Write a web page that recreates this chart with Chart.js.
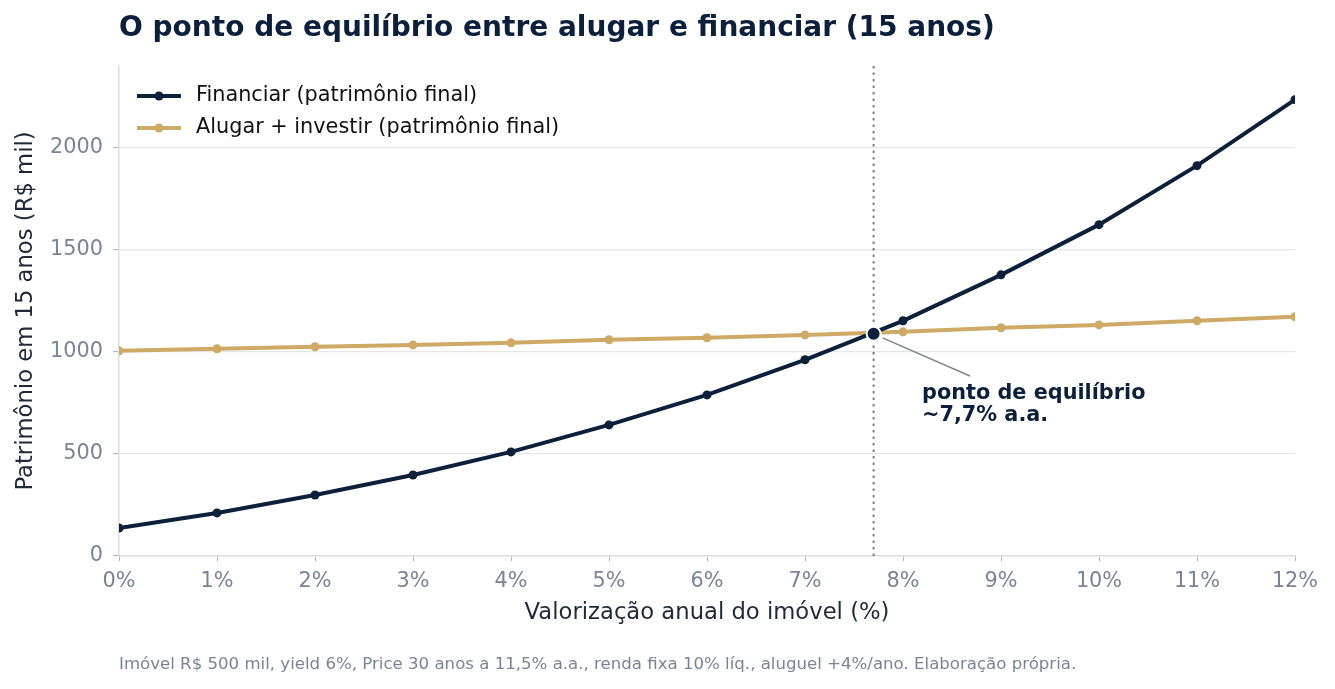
<!DOCTYPE html>
<html>
<head>
<meta charset="utf-8">
<script src="https://cdn.jsdelivr.net/npm/chart.js@4.4.1/dist/chart.umd.min.js"></script>
<style>
html,body{margin:0;padding:0;background:#fff;}
#wrap{width:1335px;height:689px;position:relative;}
</style>
</head>
<body>
<div id="wrap"><canvas id="c" width="1335" height="689"></canvas></div>
<script>
// ---- data ----
const valorizacao = [0,1,2,3,4,5,6,7,8,9,10,11,12];
const financiar = [137,211,299,397,510,642,789,961,1152,1377,1623,1912,2235];
const alugarInvestir = [1005,1015,1025,1034,1044,1059,1069,1083,1098,1118,1132,1152,1172];
const equilibrio = [{x:7.7, y:1088}];
const yTicks = [0,500,1000,1500,2000];
const labels = {
  title: 'O ponto de equilíbrio entre alugar e financiar (15 anos)',
  s1: 'Financiar (patrimônio final)',
  s2: 'Alugar + investir (patrimônio final)',
  xTitle: 'Valorização anual do imóvel (%)',
  yTitle: 'Patrimônio em 15 anos (R$ mil)',
  ann1: 'ponto de equilíbrio',
  ann2: '~7,7% a.a.',
  footer: 'Imóvel R$ 500 mil, yield 6%, Price 30 anos a 11,5% a.a., renda fixa 10% líq., aluguel +4%/ano. Elaboração própria.'
};

const NAVY = '#0c1f3b';
const GOLD = '#cfa966';
const GRAY = '#7b8494';
const FONT = "'DejaVu Sans', sans-serif";

const toXY = (arr) => arr.map((v,i)=>({x:valorizacao[i], y:v}));

const PAD = {left:8, right:40, top:66, bottom:58};
const CHART_LEFT = 119, CHART_BOTTOM = 556;

const extras = {
  id:'extras',
  beforeDatasetsDraw(chart){
    const {ctx, chartArea, scales:{x}} = chart;
    const px = x.getPixelForValue(equilibrio[0].x);
    ctx.save();
    ctx.strokeStyle = '#7d7f86';
    ctx.lineWidth = 2;
    ctx.setLineDash([2.5,4]);
    ctx.beginPath();
    ctx.moveTo(px, chartArea.top);
    ctx.lineTo(px, chartArea.bottom);
    ctx.stroke();
    ctx.restore();
  },
  afterDraw(chart){
    const {ctx, chartArea, scales:{x,y}} = chart;
    ctx.save();
    ctx.textBaseline = 'middle';
    ctx.textAlign = 'left';
    // title
    ctx.fillStyle = NAVY;
    ctx.font = "bold 28px " + FONT;
    ctx.fillText(labels.title, chartArea.left, 29);
    // legend
    const items = [[labels.s1, NAVY, 96],[labels.s2, GOLD, 128]];
    ctx.font = "20.8px " + FONT;
    items.forEach(([t,c,yy])=>{
      ctx.strokeStyle = c; ctx.lineWidth = 4;
      ctx.beginPath(); ctx.moveTo(137, yy); ctx.lineTo(181, yy); ctx.stroke();
      ctx.fillStyle = c; ctx.beginPath(); ctx.arc(159, yy, 4.5, 0, Math.PI*2); ctx.fill();
      ctx.fillStyle = '#111';
      ctx.fillText(t, 196, yy);
    });
    // annotation
    const ex = x.getPixelForValue(equilibrio[0].x), ey = y.getPixelForValue(equilibrio[0].y);
    ctx.strokeStyle = '#80848c'; ctx.lineWidth = 1.5;
    ctx.beginPath(); ctx.moveTo(ex+9, ey+4); ctx.lineTo(970, 376); ctx.stroke();
    ctx.fillStyle = NAVY;
    ctx.font = "bold 20.8px " + FONT;
    ctx.fillText(labels.ann1, 922, 394);
    ctx.fillText(labels.ann2, 922, 416);
    // footer
    ctx.fillStyle = GRAY;
    ctx.font = "16.6px " + FONT;
    ctx.fillText(labels.footer, chartArea.left, 665);
    ctx.restore();
  }
};

new Chart(document.getElementById('c'), {
  type:'line',
  data:{
    datasets:[
      {label:labels.s1, data:toXY(financiar), borderColor:NAVY, backgroundColor:NAVY, borderWidth:4, pointRadius:4.5, pointBorderWidth:0, pointHoverRadius:4.5, order:2},
      {label:labels.s2, data:toXY(alugarInvestir), borderColor:GOLD, backgroundColor:GOLD, borderWidth:4, pointRadius:4.5, pointBorderWidth:0, pointHoverRadius:4.5, order:3},
      {label:'eq', data:equilibrio, showLine:false, pointRadius:7, pointBorderWidth:2, pointBorderColor:'#fff', pointBackgroundColor:NAVY, order:1}
    ]
  },
  options:{
    responsive:false, animation:false, devicePixelRatio:1,
    layout:{padding:PAD},
    plugins:{legend:{display:false}, title:{display:false}, tooltip:{enabled:false}},
    scales:{
      x:{type:'linear', min:0, max:12,
        ticks:{stepSize:1, callback:v=>v+'%', color:GRAY, font:{family:FONT, size:20.8}, padding:8},
        grid:{display:true, drawOnChartArea:false, drawTicks:true, tickLength:5, tickColor:'#b3b7be'},
        border:{color:'#dddddd', width:1.5},
        title:{display:true, text:labels.xTitle, color:'#1f2937', font:{family:FONT, size:22.7}},
        afterFit(s){ s.height = 689 - CHART_BOTTOM - PAD.bottom; }
      },
      y:{min:0, max:2400,
        afterBuildTicks(s){ s.ticks = yTicks.map(v=>({value:v})); },
        ticks:{color:GRAY, font:{family:FONT, size:20.8}, padding:10, callback:v=>String(v)},
        grid:{color:'#e6e6e6', lineWidth:1.2, tickLength:6, tickColor:'#b3b7be'},
        border:{color:'#dddddd', width:1.5},
        title:{display:true, text:labels.yTitle, color:'#1f2937', font:{family:FONT, size:22.7}},
        afterFit(s){ s.width = CHART_LEFT - PAD.left; }
      }
    }
  },
  plugins:[extras]
});
</script>
</body>
</html>
